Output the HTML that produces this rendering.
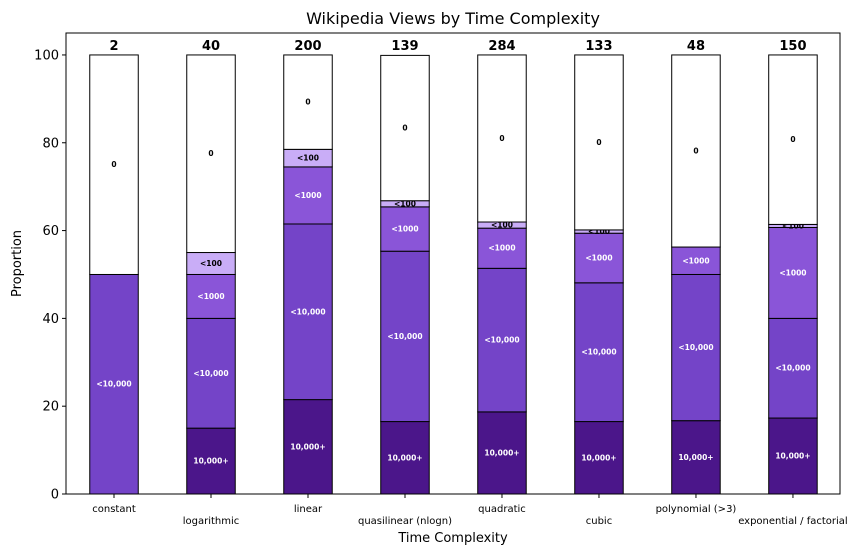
<!DOCTYPE html>
<html><head><meta charset="utf-8"><style>
body{margin:0;background:#fff;font-family:"Liberation Sans","DejaVu Sans",sans-serif}
</style></head><body>
<svg id="chart" width="863" height="555" xmlns="http://www.w3.org/2000/svg" style="font-family:'DejaVu Sans','Liberation Sans',sans-serif"></svg>
<script>
const categories=["constant","logarithmic","linear","quasilinear (nlogn)","quadratic","cubic","polynomial (>3)","exponential / factorial"];
const totals=[2,40,200,139,284,133,48,150];
const seriesNames=["10,000+","<10,000","<1000","<100","0"];
const s10000plus=[0,15,21.5,16.5,18.7,16.5,16.7,17.3];
const s10000=[50,25,40,38.8,32.7,31.6,33.3,22.7];
const s1000=[0,10,13,10.1,9.15,11.3,6.25,20.7];
const s100=[0,5,4,1.4,1.4,0.75,0,0.7];
const s0=[50,45,21.5,33.1,38.05,39.85,43.75,38.6];
const yTicks=[0,20,40,60,80,100];
const series=[s10000plus,s10000,s1000,s100,s0];
const colors=["#4b168a","#7444c8","#8a55d8","#c9adf7","#ffffff"];
const textColors=["#fff","#fff","#fff","#000","#000"];
const svg=document.getElementById('chart');const NS="http://www.w3.org/2000/svg";
const L=66,R=840,T=33,B=494;
const X=i=>L+(i+0.495)*(R-L)/7.98;
const Y=v=>B-(v/105)*(B-T);
function mk(t,a,p){const e=document.createElementNS(NS,t);for(const k in a)e.setAttribute(k,a[k]);(p||svg).appendChild(e);return e;}
const bw=0.5*(R-L)/7.98;
categories.forEach((c,i)=>{let cum=0;
 series.forEach((s,k)=>{const v=s[i];if(v<=0)return;
  const r=mk('rect',{x:X(i)-bw/2,y:Y(cum+v),width:bw,height:Y(cum)-Y(cum+v),fill:colors[k],stroke:"#000","stroke-width":1});
  
  
  const t=mk('text',{x:X(i),y:Y(cum+v/2)+2.5,"text-anchor":"middle","font-size":"7.5","font-weight":"bold",fill:textColors[k]});
  t.textContent=seriesNames[k];
  
  
  cum+=v;});
 const tt=mk('text',{x:X(i),y:50,"text-anchor":"middle","font-size":"13","font-weight":"bold"});tt.textContent=totals[i];
 
 
 const xl=mk('text',{x:X(i),y:i%2?524:512,"text-anchor":"middle","font-size":"10"});xl.textContent=c;
 
 
 mk('line',{x1:X(i),x2:X(i),y1:B,y2:B+4,stroke:"#000"});
});
yTicks.forEach(v=>{mk('line',{x1:L-4,x2:L,y1:Y(v),y2:Y(v),stroke:"#000"});
 const t=mk('text',{x:L-7,y:Y(v)+4.5,"text-anchor":"end","font-size":"13"});t.textContent=v;
 
 });
const fr=mk('rect',{x:L,y:T,width:R-L,height:B-T,fill:"none",stroke:"#000","stroke-width":1});


const ti=mk('text',{x:(L+R)/2,y:24,"text-anchor":"middle","font-size":"16"});ti.textContent="Wikipedia Views by Time Complexity";


const xt=mk('text',{x:(L+R)/2,y:542,"text-anchor":"middle","font-size":"13"});xt.textContent="Time Complexity";


const yt=mk('text',{x:21,y:(T+B)/2,"text-anchor":"middle","font-size":"13",transform:`rotate(-90 21 ${(T+B)/2})`});yt.textContent="Proportion";


</script>
</body></html>
